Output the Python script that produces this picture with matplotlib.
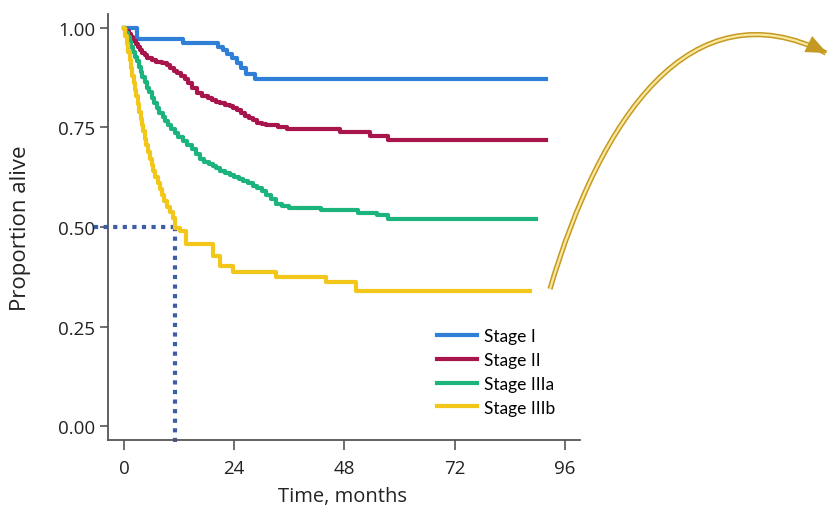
import matplotlib
matplotlib.use("Agg")
import matplotlib.pyplot as plt
from matplotlib.path import Path
from matplotlib.patches import PathPatch, FancyArrowPatch

# Kaplan-Meier survival by stage (months, proportion alive)
stage1_t = [0, 2.8, 12.8, 20.4, 21.5, 22.5, 23.5, 24.5, 25.5, 26.5, 28.5, 92]
stage1_s = [1.0, 0.972, 0.962, 0.953, 0.945, 0.935, 0.925, 0.912, 0.90, 0.885, 0.871, 0.871]

stage2_t = [0, 0.5, 1.0, 1.5, 2.0, 2.5, 3.0, 3.5, 4.0, 4.5,
            5.0, 6.0, 7.0, 8.2, 9.3, 10.0, 10.8, 11.6, 12.4, 13.2,
            14.0, 14.8, 15.8, 17.0, 18.2, 19.2, 20.0, 21.0, 22.0, 23.0,
            23.7, 24.6, 25.5, 26.3, 27.2, 28.0, 29.0, 30.0, 31.0, 33.5,
            35.4, 47.0, 53.5, 57.4, 92]
stage2_s = [1.0, 0.992, 0.984, 0.976, 0.968, 0.96, 0.952, 0.945, 0.938, 0.931,
            0.925, 0.92, 0.915, 0.911, 0.907, 0.9, 0.893, 0.886, 0.879, 0.871,
            0.862, 0.85, 0.837, 0.83, 0.823, 0.818, 0.815, 0.811, 0.807, 0.803,
            0.8, 0.794, 0.787, 0.78, 0.773, 0.768, 0.762, 0.758, 0.756, 0.752,
            0.746, 0.738, 0.728, 0.718, 0.718]

stage3a_t = [0, 0.4, 0.8, 1.2, 1.6, 2.0, 2.4, 2.8, 3.2, 3.6,
             4.0, 4.5, 5.0, 5.5, 6.0, 6.5, 7.1, 7.7, 8.4, 9.0,
             9.6, 10.3, 11.0, 11.8, 12.8, 13.8, 14.8, 15.7, 16.5, 17.5,
             18.5, 19.3, 20.0, 21.0, 22.0, 23.0, 24.0, 25.0, 26.0, 27.0,
             28.0, 29.0, 30.0, 31.0, 32.0, 33.0, 34.5, 36.0, 43.0, 51.0,
             55.0, 57.4, 89.8]
stage3a_s = [1.0, 0.988, 0.976, 0.964, 0.952, 0.94, 0.928, 0.916, 0.903, 0.89,
             0.877, 0.863, 0.85, 0.838, 0.825, 0.812, 0.798, 0.787, 0.776, 0.766,
             0.756, 0.746, 0.736, 0.726, 0.715, 0.705, 0.695, 0.683, 0.672, 0.664,
             0.657, 0.652, 0.647, 0.641, 0.635, 0.63, 0.625, 0.62, 0.615, 0.61,
             0.604, 0.597, 0.59, 0.58, 0.57, 0.559, 0.553, 0.547, 0.542, 0.534,
             0.529, 0.521, 0.521]

stage3b_t = [0, 0.3, 0.6, 0.9, 1.2, 1.5, 1.8, 2.1, 2.4, 2.7,
             3.0, 3.3, 3.6, 3.9, 4.2, 4.5, 4.8, 5.2, 5.6, 6.0,
             6.4, 6.8, 7.3, 7.8, 8.3, 8.8, 9.4, 10.0, 10.6, 11.2,
             12.2, 13.6, 19.4, 20.9, 23.7, 33.0, 44.0, 50.6, 88.3]
stage3b_s = [1.0, 0.98, 0.96, 0.94, 0.92, 0.90, 0.88, 0.862, 0.845, 0.828,
             0.81, 0.79, 0.772, 0.755, 0.74, 0.722, 0.705, 0.688, 0.672, 0.655,
             0.64, 0.625, 0.61, 0.595, 0.58, 0.565, 0.55, 0.538, 0.522, 0.498,
             0.489, 0.458, 0.426, 0.403, 0.388, 0.375, 0.363, 0.34, 0.34]

stage3b_median = 11.2   # months, where Stage IIIb drops below 0.50

labels = ["Stage I", "Stage II", "Stage IIIa", "Stage IIIb"]
colors = ["#2f7fd6", "#a8144c", "#1cb37c", "#f2c71a"]

x_ticks = [0, 24, 48, 72, 96]
y_ticks = [0.00, 0.25, 0.50, 0.75, 1.00]

plt.rcParams['font.family'] = ['Open Sans', 'DejaVu Sans']

fig = plt.figure(figsize=(8.28, 5.10), dpi=100)
ax = fig.add_axes([0.1304, 0.1353, 0.5701, 0.8353])

curves = [(stage1_t, stage1_s), (stage2_t, stage2_s), (stage3a_t, stage3a_s), (stage3b_t, stage3b_s)]
for (t, s), lab, c in zip(curves, labels, colors):
    ax.step(t, s, where='post', color=c, lw=3.0, label=lab, zorder=3)

# median survival guide for Stage IIIb
dot_col = "#3c5ca6"
ax.plot([-6.5, stage3b_median], [0.5, 0.5], color=dot_col, lw=3,
        linestyle=(0, (1, 1.3)), clip_on=False, zorder=2)
ax.plot([stage3b_median, stage3b_median], [0.5, -0.053], color=dot_col, lw=3,
        linestyle=(0, (1, 1.3)), clip_on=False, zorder=2)

ax.set_xlim(-3.5, 99.3)
ax.set_ylim(-0.035, 1.035)
ax.set_xticks(x_ticks)
ax.set_yticks(y_ticks)
ax.set_yticklabels(["%.2f" % v for v in y_ticks])
ax.tick_params(axis='both', labelsize=13.5, width=1.2, color='#555555', labelcolor='#222222')
ax.tick_params(axis='x', length=7, pad=7)
ax.tick_params(axis='y', length=6, pad=3)
for side in ['top', 'right']:
    ax.spines[side].set_visible(False)
for side in ['left', 'bottom']:
    ax.spines[side].set_color('#555555')
    ax.spines[side].set_linewidth(1.3)

ax.set_xlabel("Time, months", fontsize=14.5, color='#222222')
ax.set_ylabel("Proportion alive", fontsize=16, color='#222222')
ax.xaxis.set_label_coords(0.496, -0.108)
ax.yaxis.set_label_coords(-0.163, 0.5)

leg = ax.legend(loc='center left', bbox_to_anchor=(0.697, 0.16), frameon=False,
                prop={'family': 'Lato', 'size': 12.5}, handlelength=2.3,
                handletextpad=0.4, labelspacing=0.45, borderpad=0, borderaxespad=0)
for line in leg.get_lines():
    line.set_linewidth(3)

# curved arrow on the right, drawn in figure pixel coordinates
W, H = 828.0, 510.0
def fig_xy(x, y):
    return (x / W, 1 - y / H)

pts = [(550, 290), (600, 120), (690, -15), (826, 54)]
verts = [fig_xy(x, y) for x, y in pts]
codes = [Path.MOVETO, Path.CURVE4, Path.CURVE4, Path.CURVE4]
outer = PathPatch(Path(verts, codes), facecolor='none', edgecolor='#c49a22', lw=3.8,
                  transform=fig.transFigure, zorder=5)
inner = PathPatch(Path(verts, codes), facecolor='none', edgecolor='#fbe8a0', lw=1.6,
                  transform=fig.transFigure, zorder=6)
head = FancyArrowPatch(posA=fig_xy(806, 44), posB=fig_xy(827, 54),
                       arrowstyle='-|>,head_length=0.75,head_width=0.32', mutation_scale=20,
                       color='#c49a22', lw=0, shrinkA=0, shrinkB=0,
                       transform=fig.transFigure, zorder=7)
fig.patches.extend([outer, inner, head])

fig.savefig("out.png", dpi=100)
